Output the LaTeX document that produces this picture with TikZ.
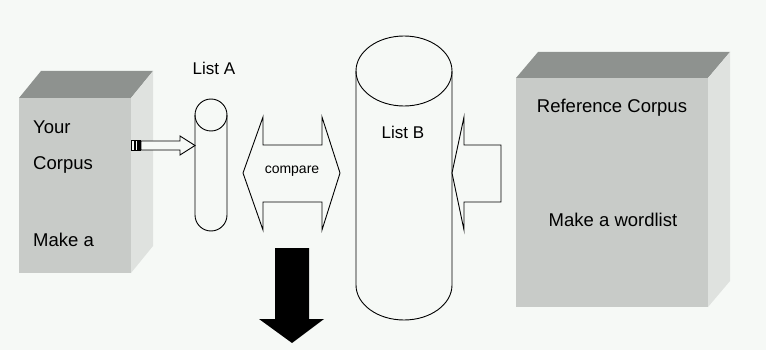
\documentclass[tikz,border=0pt]{standalone}
\usepackage{fontspec}
\setmainfont{Liberation Sans}
\usetikzlibrary{calc}

\definecolor{paper}{RGB}{246,249,246}
\definecolor{boxfront}{RGB}{200,203,200}
\definecolor{boxtop}{RGB}{142,146,143}
\definecolor{boxside}{RGB}{223,226,223}

\begin{document}
\begin{tikzpicture}[
    x=1pt, y=-1pt,
    boxtext/.style={font=\fontsize{18.5}{20}\selectfont, inner sep=0pt},
    listtext/.style={font=\fontsize{17}{19}\selectfont, inner sep=0pt},
    smalltext/.style={font=\fontsize{14}{16}\selectfont, inner sep=0pt},
    frontface/.style={fill=boxfront},
    topface/.style={fill=boxtop},
    sideface/.style={fill=boxside},
    outline/.style={draw=black, line width=0.9pt, fill=paper, line join=miter}
]

\useasboundingbox[fill=paper] (0,0) rectangle (766,350);

% Your Corpus block
\fill[frontface] (19,98) rectangle (131,273);
\fill[topface] (19,98) -- (41,71) -- (153,71) -- (131,98) -- cycle;
\fill[sideface] (131,98) -- (153,71) -- (153,246) -- (131,273) -- cycle;
\node[boxtext, anchor=west] (your) at (33,127) {Your};
\node[boxtext, anchor=west] (corpus) at (33,165) {Corpus};
\node[boxtext, anchor=west] (makea) at (33,240) {Make a};

% Reference Corpus block
\fill[frontface] (516,78) rectangle (708,307);
\fill[topface] (516,78) -- (538,52) -- (730,52) -- (708,78) -- cycle;
\fill[sideface] (708,78) -- (730,52) -- (730,281) -- (708,307) -- cycle;
\node[boxtext] (refcorpus) at (612,108) {Reference Corpus};
\node[boxtext] (refmake) at (613,220) {Make a wordlist};

% List A cylinder
\draw[outline] (195,115) -- (195,215) arc[start angle=180, end angle=0, radius=16]
    -- (227,115) arc[start angle=0, end angle=-180, radius=16] -- cycle;
\draw[line width=0.9pt] (195,115) arc[start angle=180, end angle=0, radius=16];
\node[listtext] (lista) at (214,68) {List A};

% List B cylinder
\draw[outline] (356,71) -- (356,285) arc[start angle=180, end angle=0, x radius=48, y radius=35]
    -- (452,71) arc[start angle=0, end angle=-180, x radius=48, y radius=35] -- cycle;
\draw[line width=0.9pt] (356,71) arc[start angle=180, end angle=0, x radius=48, y radius=35];
\node[listtext] (listb) at (403,132) {List B};

% small arrow into List A, with striped tail
\fill (131,140) rectangle (141,151);
\fill[paper] (132.4,141.4) rectangle (134.2,149.6);
\fill[paper] (135.6,141.4) rectangle (137.4,149.6);
\draw[outline] (141,141) -- (180,141) -- (180,136) -- (195,145.5) -- (180,155)
    -- (180,150) -- (141,150) -- cycle;

% compare arrow between the lists
\draw[outline] (243,173) -- (263,117) -- (263,145) -- (322,145) -- (322,117) -- (340,173)
    -- (322,230) -- (322,202) -- (263,202) -- (263,230) -- cycle;
\node[smalltext] (compare) at (292,171) {compare};

% arrow from Reference Corpus into List B
\draw[outline] (452,173) -- (464,117) -- (464,145) -- (501,145) -- (501,202)
    -- (464,202) -- (464,230) -- cycle;

% result arrow
\fill[black] (275,248) -- (309,248) -- (309,319) -- (324,319) -- (292,343)
    -- (259,319) -- (275,319) -- cycle;

\end{tikzpicture}
\end{document}
